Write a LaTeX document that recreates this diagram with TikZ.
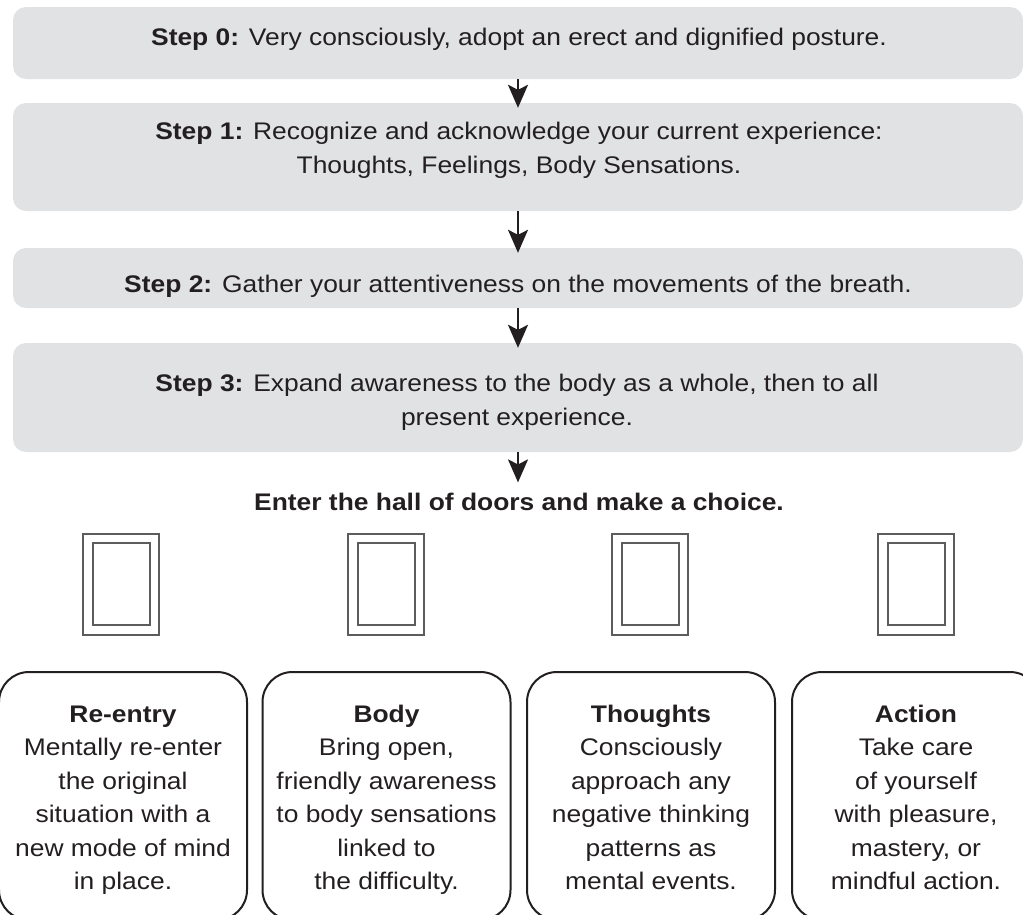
\documentclass[tikz,border=0pt]{standalone}
\usepackage{fontspec}
\setmainfont{Liberation Sans}[FakeStretch=1.1]
\usetikzlibrary{arrows.meta}
\definecolor{boxgray}{HTML}{E1E2E4}
\definecolor{ink}{HTML}{231F20}
\definecolor{doorline}{HTML}{5C5C5C}
\tikzset{
 stepbox/.style={fill=boxgray, rounded corners=13pt, minimum width=1010pt, inner sep=0pt},
 steptext/.style={anchor=base, align=center, inner sep=0pt, text=ink, font=\fontsize{24}{33.3}\selectfont},
 flow/.style={draw=ink, line width=2pt, -{Stealth[length=23pt,width=20pt,inset=5pt]}, shorten >=-5pt},
 doorframe/.style={draw=doorline, line width=1.8pt, minimum width=76pt, minimum height=101pt, inner sep=0pt},
 doorpanel/.style={draw=doorline, line width=1.5pt, minimum width=57pt, minimum height=82pt, inner sep=0pt},
 choicebox/.style={draw=ink, line width=2pt, rounded corners=30pt, minimum width=248pt, minimum height=248pt, inner sep=0pt},
 choicetext/.style={anchor=base, align=center, inner sep=0pt, text=ink, font=\fontsize{24}{33.5}\selectfont},
}
\begin{document}
\begin{tikzpicture}[x=1pt,y=-1pt]
\useasboundingbox (0,0) rectangle (1023,914);
\clip (0,0) rectangle (1023,914);
% step boxes
\node[stepbox, minimum height=72pt]  (s0) at (518,43) {};
\node[stepbox, minimum height=108pt] (s1) at (518,157) {};
\node[stepbox, minimum height=60pt]  (s2) at (518,278) {};
\node[stepbox, minimum height=109pt] (s3) at (518,397.5) {};
\node[steptext] (t0) at (519,45) {\textbf{Step 0:} Very consciously, adopt an erect and dignified posture.};
\node[steptext] (t1) at (519,173) {\textbf{Step 1:} Recognize and acknowledge your current experience:\\Thoughts, Feelings, Body Sensations.};
\node[steptext] (t2) at (518,292) {\textbf{Step 2:} Gather your attentiveness on the movements of the breath.};
\node[steptext] (t3) at (517,425) {\textbf{Step 3:} Expand awareness to the body as a whole, then to all\\present experience.};
\node[steptext] (choice) at (519,510) {\textbf{Enter the hall of doors and make a choice.}};
% arrows
\draw[flow] (s0.south) -- (s1.north);
\draw[flow] (s1.south) -- (s2.north);
\draw[flow] (s2.south) -- (s3.north);
\draw[flow, shorten >=10pt] (s3.south) -- (s3.south |- choice.north);
% doors
\node[doorframe] (frameA) at (121,584.5) {};
\node[doorpanel] (panelA) at (121.5,584) {};
\node[doorframe] (frameB) at (386,584.5) {};
\node[doorpanel] (panelB) at (386.5,584) {};
\node[doorframe] (frameC) at (650,584.5) {};
\node[doorpanel] (panelC) at (650.5,584) {};
\node[doorframe] (frameD) at (916,584.5) {};
\node[doorpanel] (panelD) at (916.5,584) {};
% choice boxes
\node[choicebox] (reentry) at (123,796) {};
\node[choicebox] (body) at (386.5,796) {};
\node[choicebox] (thoughts) at (651,796) {};
\node[choicebox] (action) at (916,796) {};
\node[choicetext] (reentryT) at (123,889.5) {\textbf{Re-entry}\\Mentally re-enter\\the original\\situation with a\\new mode of mind\\in place.};
\node[choicetext] (bodyT) at (386.5,889.5) {\textbf{Body}\\Bring open,\\friendly awareness\\to body sensations\\linked to\\the difficulty.};
\node[choicetext] (thoughtsT) at (651,889.5) {\textbf{Thoughts}\\Consciously\\approach any\\negative thinking\\patterns as\\mental events.};
\node[choicetext] (actionT) at (916,889.5) {\textbf{Action}\\Take care\\of yourself\\with pleasure,\\mastery, or\\mindful action.};
\end{tikzpicture}
\end{document}
